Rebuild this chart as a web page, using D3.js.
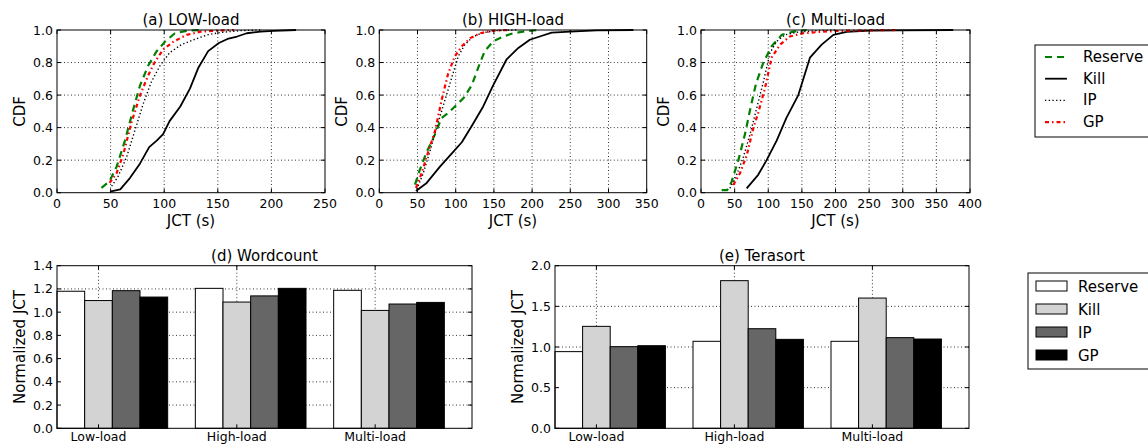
<!DOCTYPE html>
<html><head><meta charset="utf-8">
<script src="https://cdn.jsdelivr.net/npm/d3@7"></script>
<style>
body{margin:0;background:#fff;}
svg{display:block;font-family:"DejaVu Sans",sans-serif;}
</style></head><body>
<svg id="c" width="1148" height="444"></svg>
<script>
// ---------- DATA ----------
const seriesNames = ["Reserve", "Kill", "IP", "GP"];
const panelTitlesTop = ["(a) LOW-load", "(b) HIGH-load", "(c) Multi-load"];
const xMaxTop = [250, 350, 400];

// (a) LOW-load CDF points [JCT, CDF]
const lowReserve = [[41.5,0.03],[49,0.07],[55.6,0.16],[63.4,0.32],[71,0.51],[77.5,0.66],[85,0.78],[93,0.87],[101,0.93],[110,0.98],[121,0.995],[134,1.0]];
const lowKill = [[49.4,0.006],[59,0.02],[68,0.09],[77.5,0.18],[86,0.28],[93,0.32],[99,0.36],[105,0.44],[115,0.53],[124,0.64],[132,0.77],[141,0.87],[151,0.92],[159,0.945],[168,0.96],[177,0.98],[190,0.99],[202,0.995],[223,1.0]];
const lowIP = [[51,0.04],[57,0.10],[65,0.22],[73,0.39],[80.6,0.55],[88,0.68],[96,0.78],[105,0.86],[116,0.91],[127.5,0.94],[140,0.97],[152.5,0.985],[171,0.996],[190,1.0]];
const lowGP = [[49,0.06],[55.6,0.12],[62,0.24],[69.4,0.43],[77.5,0.60],[85,0.72],[91,0.80],[99,0.88],[109,0.93],[121,0.97],[134,0.99],[149,0.996],[165,1.0]];

// (b) HIGH-load CDF points
const highReserve = [[46.7,0.05],[53,0.14],[62,0.25],[73,0.36],[81.6,0.46],[90,0.49],[99,0.53],[110,0.58],[121,0.66],[129.6,0.77],[138,0.87],[149,0.93],[162,0.96],[175.5,0.98],[193,0.994],[210,1.0]];
const highKill = [[48,0.01],[62,0.06],[79.4,0.16],[94.7,0.24],[108,0.31],[121,0.41],[136,0.53],[149,0.66],[166.7,0.82],[182,0.89],[197,0.94],[210,0.96],[225.6,0.984],[250,0.99],[284.6,0.998],[332.6,1.0]];
const highIP = [[49,0.02],[57.6,0.12],[66,0.25],[75,0.40],[86,0.57],[95,0.71],[103.5,0.84],[112,0.91],[123,0.96],[136,0.984],[153.6,0.996],[180,1.0]];
const highGP = [[48,0.03],[55.4,0.12],[64,0.25],[73,0.38],[81.6,0.57],[90,0.73],[99,0.84],[108,0.90],[119,0.95],[132,0.98],[149,0.996],[171,1.0]];

// (c) Multi-load CDF points
const multiReserve = [[30.7,0.016],[39,0.016],[45.6,0.068],[55.5,0.20],[65.4,0.36],[73,0.51],[81.8,0.67],[92.7,0.80],[105,0.90],[120,0.97],[137,0.99],[157,1.0]];
const multiKill = [[67.9,0.027],[85,0.11],[97.6,0.20],[112.5,0.32],[127,0.46],[144.7,0.60],[162,0.83],[179.4,0.91],[196.8,0.97],[216.6,0.988],[251,0.996],[291,0.998],[375,1.0]];
const multiIP = [[43,0.027],[53,0.11],[63,0.22],[73,0.36],[82.8,0.52],[92.7,0.68],[102.6,0.86],[112.5,0.93],[125,0.97],[142,0.986],[172,0.996],[202,1.0]];
const multiGP = [[48,0.047],[58,0.12],[68,0.23],[78,0.40],[85,0.49],[95,0.64],[105,0.83],[117.5,0.91],[132,0.96],[152,0.98],[182,0.99],[216.6,0.996],[291,1.0]];

// Bars
const loadCategories = ["Low-load", "High-load", "Multi-load"];
const wordcountReserve = [1.18, 1.205, 1.188];
const wordcountKill    = [1.10, 1.087, 1.015];
const wordcountIP      = [1.185, 1.14, 1.07];
const wordcountGP      = [1.13, 1.205, 1.084];
const terasortReserve = [0.943, 1.07, 1.07];
const terasortKill    = [1.254, 1.816, 1.602];
const terasortIP      = [1.004, 1.225, 1.115];
const terasortGP      = [1.016, 1.094, 1.098];
const wordcountTicks = [0, 0.2, 0.4, 0.6, 0.8, 1.0, 1.2, 1.4];
const terasortTicks = [0, 0.5, 1.0, 1.5, 2.0];

// ---------- STYLE ----------
const lineStyles = {
  Reserve: {stroke:"#008000", width:2.2, dash:"7,5"},
  Kill:    {stroke:"#000", width:1.8, dash:null},
  IP:      {stroke:"#000", width:1.4, dash:"1.3,2.4"},
  GP:      {stroke:"#ff0000", width:2.2, dash:"4,3,1.5,3"}
};
const barFills = {Reserve:"#ffffff", Kill:"#d3d3d3", IP:"#666666", GP:"#000000"};

const svg = d3.select("#c");
const TICK_FS = 12.5, LABEL_FS = 15;

function frame(g, x0, x1, y0, y1){
  g.append("rect").attr("x",x0).attr("y",y0).attr("width",x1-x0).attr("height",y1-y0)
    .attr("fill","none").attr("stroke","#000").attr("stroke-width",1);
}
function gridLine(g, x1,y1,x2,y2){
  g.append("line").attr("x1",x1).attr("y1",y1).attr("x2",x2).attr("y2",y2)
    .attr("stroke","#000").attr("stroke-width",0.8).attr("stroke-dasharray","1,2.5");
}
function tickMark(g, x1,y1,x2,y2){
  g.append("line").attr("x1",x1).attr("y1",y1).attr("x2",x2).attr("y2",y2)
    .attr("stroke","#000").attr("stroke-width",1);
}

// ---------- TOP ROW (CDF) ----------
const topPlots = [
  {left:57, right:325, data:{Reserve:lowReserve, Kill:lowKill, IP:lowIP, GP:lowGP}},
  {left:379.3, right:646.7, data:{Reserve:highReserve, Kill:highKill, IP:highIP, GP:highGP}},
  {left:701, right:970, data:{Reserve:multiReserve, Kill:multiKill, IP:multiIP, GP:multiGP}}
];
const topY0 = 30, topY1 = 192.7;

topPlots.forEach((p,i) => {
  const g = svg.append("g");
  const x = d3.scaleLinear().domain([0, xMaxTop[i]]).range([p.left, p.right]);
  const y = d3.scaleLinear().domain([0,1]).range([topY1, topY0]);
  const xt = d3.range(0, xMaxTop[i]+1, 50);
  const yt = d3.range(0, 1.0001, 0.2);
  xt.forEach(t => { if (t>0 && t<xMaxTop[i]) gridLine(g, x(t), topY0, x(t), topY1); });
  yt.forEach(t => { if (t>0.001 && t<0.999) gridLine(g, p.left, y(t), p.right, y(t)); });
  // lines
  const line = d3.line().x(d=>x(d[0])).y(d=>y(d[1]));
  seriesNames.forEach(s => {
    const st = lineStyles[s];
    g.append("path").datum(p.data[s]).attr("d", line).attr("fill","none")
      .attr("stroke", st.stroke).attr("stroke-width", st.width)
      .attr("stroke-dasharray", st.dash).attr("stroke-linejoin","round");
  });
  frame(g, p.left, p.right, topY0, topY1);
  // ticks inward
  xt.forEach(t => { tickMark(g, x(t), topY1, x(t), topY1-4); tickMark(g, x(t), topY0, x(t), topY0+4); });
  yt.forEach(t => { tickMark(g, p.left, y(t), p.left+4, y(t)); tickMark(g, p.right, y(t), p.right-4, y(t)); });
  // tick labels
  g.selectAll(null).data(xt).enter().append("text").attr("x", d=>x(d)).attr("y", topY1+15)
    .attr("text-anchor","middle").attr("font-size",TICK_FS).text(d=>d);
  g.selectAll(null).data(yt).enter().append("text").attr("x", p.left-4).attr("y", d=>y(d)+4.5)
    .attr("text-anchor","end").attr("font-size",TICK_FS).text(d=>d3.format(".1f")(d));
  // labels
  const cx = (p.left+p.right)/2;
  g.append("text").attr("x",cx).attr("y",25).attr("text-anchor","middle").attr("font-size",LABEL_FS).text(panelTitlesTop[i]);
  g.append("text").attr("x",cx).attr("y",226).attr("text-anchor","middle").attr("font-size",LABEL_FS).text("JCT (s)");
  g.append("text").attr("transform",`translate(${p.left-32},${(topY0+topY1)/2}) rotate(-90)`)
    .attr("text-anchor","middle").attr("font-size",LABEL_FS).text("CDF");
});

// top legend
{
  const g = svg.append("g");
  g.append("rect").attr("x",1035).attr("y",45).attr("width",140).attr("height",92)
    .attr("fill","#fff").attr("stroke","#000").attr("stroke-width",1);
  seriesNames.forEach((s,k) => {
    const yy = 57 + k*21.7;
    const st = lineStyles[s];
    g.append("line").attr("x1",1045).attr("x2",1067).attr("y1",yy).attr("y2",yy)
      .attr("stroke",st.stroke).attr("stroke-width",st.width).attr("stroke-dasharray",st.dash);
    g.append("text").attr("x",1083).attr("y",yy+5).attr("font-size",LABEL_FS).text(s);
  });
}

// ---------- BOTTOM ROW (bars) ----------
const barPlots = [
  {left:57, right:472, title:"(d) Wordcount", ticks:wordcountTicks, fmt:".1f",
   data:{Reserve:wordcountReserve, Kill:wordcountKill, IP:wordcountIP, GP:wordcountGP}},
  {left:555, right:969, title:"(e) Terasort", ticks:terasortTicks, fmt:".1f",
   data:{Reserve:terasortReserve, Kill:terasortKill, IP:terasortIP, GP:terasortGP}}
];
const botY0 = 265.7, botY1 = 428.3;
const barW = 0.2;

barPlots.forEach(p => {
  const g = svg.append("g");
  const x = d3.scaleLinear().domain([0,3]).range([p.left, p.right]);
  const yMax = p.ticks[p.ticks.length-1];
  const y = d3.scaleLinear().domain([0,yMax]).range([botY1, botY0]);
  const xt = loadCategories.map((c,i)=> i + 1.5*barW);
  // grid
  p.ticks.forEach(t => { if (t>0 && t<yMax) gridLine(g, p.left, y(t), p.right, y(t)); });
  xt.forEach(t => gridLine(g, x(t), botY0, x(t), botY1));
  // bars
  seriesNames.forEach((s,k) => {
    g.selectAll(null).data(p.data[s]).enter().append("rect")
      .attr("x",(d,i)=>x(i + k*barW)).attr("width", x(barW)-x(0))
      .attr("y", d=>y(d)).attr("height", d=>y(0)-y(d))
      .attr("fill", barFills[s]).attr("stroke","#000").attr("stroke-width",1);
  });
  frame(g, p.left, p.right, botY0, botY1);
  p.ticks.forEach(t => { tickMark(g, p.left, y(t), p.left+4, y(t)); tickMark(g, p.right, y(t), p.right-4, y(t)); });
  xt.forEach(t => { tickMark(g, x(t), botY1, x(t), botY1-4); tickMark(g, x(t), botY0, x(t), botY0+4); });
  g.selectAll(null).data(loadCategories).enter().append("text")
    .attr("x",(d,i)=>x(xt[i])).attr("y", botY1+13).attr("text-anchor","middle")
    .attr("font-size",TICK_FS).text(d=>d);
  g.selectAll(null).data(p.ticks).enter().append("text").attr("x", p.left-4).attr("y", d=>y(d)+4.5)
    .attr("text-anchor","end").attr("font-size",TICK_FS).text(d=>d3.format(p.fmt)(d));
  const cx = (p.left+p.right)/2;
  g.append("text").attr("x",cx).attr("y",261).attr("text-anchor","middle").attr("font-size",LABEL_FS).text(p.title);
  g.append("text").attr("transform",`translate(${p.left-32},${(botY0+botY1)/2}) rotate(-90)`)
    .attr("text-anchor","middle").attr("font-size",LABEL_FS).text("Normalized JCT");
});

// bottom legend
{
  const g = svg.append("g");
  g.append("rect").attr("x",1028).attr("y",273).attr("width",140).attr("height",96)
    .attr("fill","#fff").attr("stroke","#000").attr("stroke-width",1);
  seriesNames.forEach((s,k) => {
    const yy = 286 + k*23;
    g.append("rect").attr("x",1036).attr("y",yy-5).attr("width",31).attr("height",10)
      .attr("fill",barFills[s]).attr("stroke","#000").attr("stroke-width",1);
    g.append("text").attr("x",1078).attr("y",yy+5.5).attr("font-size",LABEL_FS).text(s);
  });
}
</script>
</body></html>
